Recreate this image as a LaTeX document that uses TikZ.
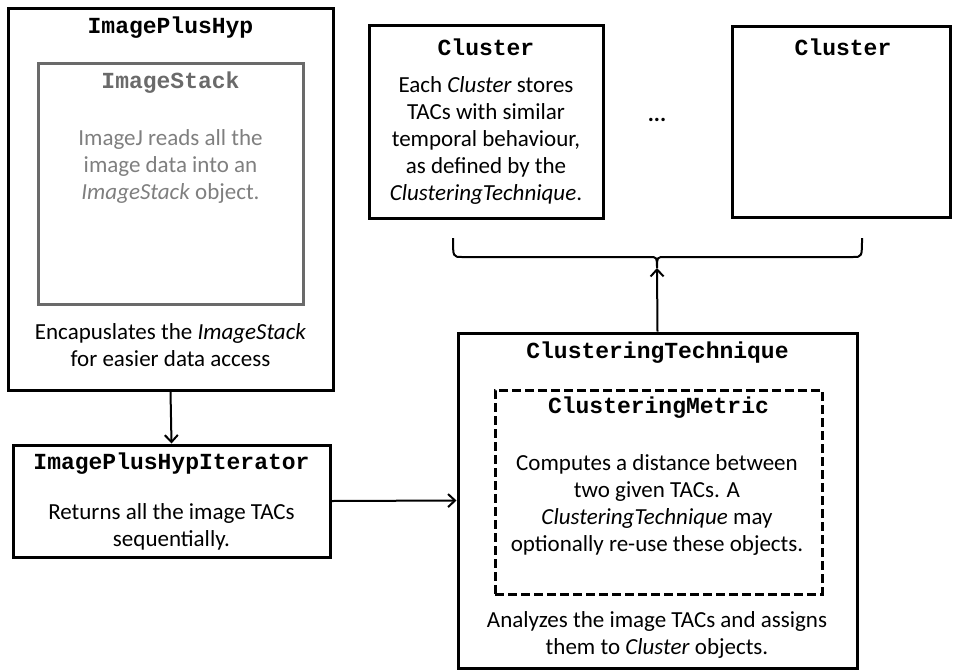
\documentclass[tikz,border=0pt]{standalone}
\usepackage{fontspec}
\setmainfont{Carlito}
\newfontfamily\codefont{Liberation Mono}
\usetikzlibrary{arrows.meta}
\definecolor{stackgray}{HTML}{6A6A6A}
\definecolor{stacktext}{HTML}{7F7F7F}
\begin{document}
\begin{tikzpicture}[x=1pt,y=-1pt,
  box/.style={draw, line width=3pt, inner sep=0pt},
  graybox/.style={draw=stackgray, line width=3pt, inner sep=0pt},
  dashbox/.style={draw, line width=3pt, inner sep=0pt, dash pattern=on 9pt off 4pt},
  ttl/.style={inner sep=0pt, font=\fontsize{23}{26}\selectfont\codefont\bfseries},
  body/.style={inner sep=0pt, align=center, font=\fontsize{23}{27}\selectfont},
  conn/.style={line width=2pt, -{Straight Barb[length=7pt,width=13pt,line width=2pt]}}]
\useasboundingbox (0,0) rectangle (956,670);

% ImagePlusHyp
\node[box, minimum width=325, minimum height=382] (iph) at (170.5,199) {};
\node[ttl] (iphT) at (170.5,28) {ImagePlusHyp};
\node[graybox, minimum width=265, minimum height=241] (stack) at (170.5,183.5) {};
\node[ttl, text=stackgray] (stackT) at (170.5,83) {ImageStack};
\node[body, text=stacktext] (stackB) at (170.5,166) {ImageJ reads all the\\image data into an\\\textit{ImageStack} object.};
\node[body] (iphB) at (170.5,345) {Encapuslates the \textit{ImageStack}\\for easier data access};

% Iterator
\node[box, minimum width=317, minimum height=112] (iter) at (171.5,501) {};
\node[ttl] (iterT) at (171.5,464) {ImagePlusHypIterator};
\node[body] (iterB) at (171.5,527) {Returns all the image TACs\\sequentially.};

% Clusters
\node[box, minimum width=234, minimum height=193] (cl1) at (486,121.5) {};
\node[ttl] (cl1T) at (486,47) {Cluster};
\node[body] (cl1B) at (486,140) {Each \textit{Cluster} stores\\TACs with similar\\temporal behaviour,\\as defined by the\\\textit{ClusteringTechnique}.};
\node[box, minimum width=218, minimum height=191] (cl2) at (841,121.5) {};
\node[ttl] (cl2T) at (843,47) {Cluster};
\node[body, font=\fontsize{23}{27}\selectfont\bfseries] (dots) at (657,120) {...};

% ClusteringTechnique
\node[box, minimum width=399, minimum height=335] (ct) at (657.5,500.5) {};
\node[ttl] (ctT) at (657.5,353) {ClusteringTechnique};
\node[dashbox, minimum width=327, minimum height=204] (cm) at (658.5,492) {};
\node[ttl] (cmT) at (658.5,408) {ClusteringMetric};
\node[body] (cmB) at (657,505) {Computes a distance between\\two given TACs. A\\\textit{ClusteringTechnique} may\\optionally re-use these objects.};
\node[body] (ctB) at (657,635) {Analyzes the image TACs and assigns\\them to \textit{Cluster} objects.};

% brace
\coordinate (bl) at (453,238);
\coordinate (br) at (862,238);
\coordinate (tip) at (657,268);
\draw[line width=2pt] (bl) .. controls (453,257) .. (462,257) -- (649,257)
  .. controls (657,257) .. (tip) .. controls (657,257) .. (665,257)
  -- (853,257) .. controls (862,257) .. (br);

% connectors
\draw[conn] (iph.south) -- (iter.north);
\draw[conn] (iter.east) -- (ct.west);
\draw[conn] (ct.north) -- (tip);
\end{tikzpicture}
\end{document}
